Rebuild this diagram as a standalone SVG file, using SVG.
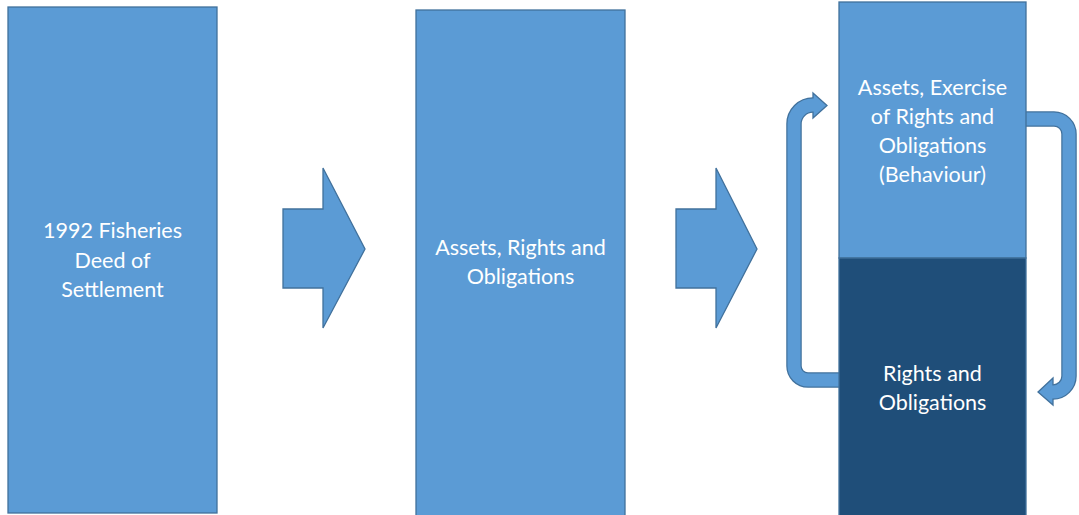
<svg xmlns="http://www.w3.org/2000/svg" width="1079" height="515" viewBox="0 0 1079 515">
  <style>
    .box { fill: #5B9BD5; stroke: #41719C; stroke-width: 1.3; }
    .dark { fill: #1F4E79; stroke: #41719C; stroke-width: 1.3; }
    .arrow { fill: #5B9BD5; stroke: #41719C; stroke-width: 1.3; stroke-linejoin: miter; }
    .shaftOut { fill: none; stroke: #41719C; stroke-width: 15.5; }
    .shaftIn { fill: none; stroke: #5B9BD5; stroke-width: 13; }
    text { font-family: Lato, "Liberation Sans", sans-serif; font-size: 21.5px; fill: #FFFFFF; text-anchor: middle; }
  </style>
  <rect width="1079" height="515" fill="#FFFFFF"/>
  <g id="connectors">
    <polygon class="arrow" points="283,209 323,209 323,168 365,249 323,328 323,288 283,288"/>
    <polygon class="arrow" points="676,209 716,209 716,168 757,249 716,328 716,288 676,288"/>
    <!-- left loop arrow -->
    <path class="shaftOut" d="M 845 380 L 808 380 A 14 14 0 0 1 794 366 L 794 124 A 19 19 0 0 1 813 105 L 814 105"/>
    <polygon class="arrow" points="813,93 827,105.5 813,118"/>
    <path class="shaftIn" d="M 845 380 L 808 380 A 14 14 0 0 1 794 366 L 794 124 A 19 19 0 0 1 813 105 L 815 105"/>
    <!-- right loop arrow -->
    <path class="shaftOut" d="M 1020 119 L 1054 119 A 15 15 0 0 1 1069 134 L 1069 376 A 16 16 0 0 1 1053 392 L 1052 392"/>
    <polygon class="arrow" points="1053,378 1038,392 1053,405"/>
    <path class="shaftIn" d="M 1020 119 L 1054 119 A 15 15 0 0 1 1069 134 L 1069 376 A 16 16 0 0 1 1053 392 L 1051 392"/>
  </g>
  <g id="node-deed">
    <rect class="box" x="8" y="7" width="209" height="506"/>
    <text x="112.5" y="238">1992 Fisheries</text>
    <text x="112.5" y="268">Deed of</text>
    <text x="112.5" y="297">Settlement</text>
  </g>
  <g id="node-assets">
    <rect class="box" x="416" y="10" width="209" height="510"/>
    <text x="520.5" y="255">Assets, Rights and</text>
    <text x="520.5" y="284">Obligations</text>
  </g>
  <g id="node-exercise">
    <rect class="box" x="839" y="2" width="187" height="256"/>
    <text x="932.5" y="95">Assets, Exercise</text>
    <text x="932.5" y="124">of Rights and</text>
    <text x="932.5" y="153">Obligations</text>
    <text x="932.5" y="182">(Behaviour)</text>
  </g>
  <g id="node-rights">
    <rect class="dark" x="839" y="258" width="187" height="262"/>
    <text x="932.5" y="381">Rights and</text>
    <text x="932.5" y="410">Obligations</text>
  </g>
</svg>
